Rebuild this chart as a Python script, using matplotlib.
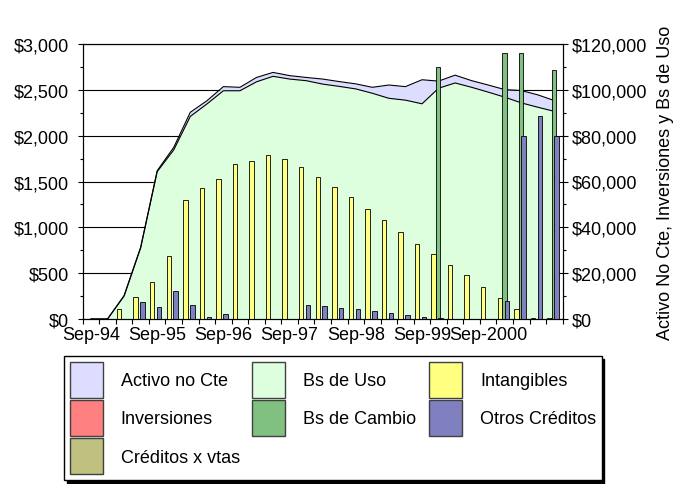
import numpy as np
import matplotlib
matplotlib.use('Agg')
import matplotlib.pyplot as plt
from matplotlib.patches import Patch
from matplotlib.ticker import StrMethodFormatter, MultipleLocator

plt.rcParams['font.family'] = ['Liberation Sans', 'DejaVu Sans']
plt.rcParams['font.size'] = 13

# quarterly categories, Sep-94 .. Sep-2001 (29 quarters), only Sep labelled
n_cat = 29
x_labels = ['Sep-94', 'Sep-95', 'Sep-96', 'Sep-97', 'Sep-98', 'Sep-99', 'Sep-2000']
label_pos = [0, 4, 8, 12, 16, 20, 24]

# right axis (areas)
activo_no_cte = [0, 0, 10200, 31300, 64700, 74900, 90200, 95200, 101400, 101100,
                 105400, 107600, 106200, 105400, 104700, 103600, 102600, 101100, 102100, 101400,
                 104400, 103800, 106400, 104000, 102100, 100100, 99700, 97800, 95300]
bs_de_uso = [0, 0, 10000, 31000, 64300, 73800, 88400, 93800, 99600, 99600,
             103500, 105900, 104700, 104000, 102500, 101500, 100400, 98500, 96300, 95500,
             93900, 100700, 103000, 101100, 99000, 96800, 94300, 92400, 90600]
inversiones = [0] * n_cat

# left axis (bars)
intangibles = [0, 0, 105, 236, 400, 691, 1302, 1425, 1531, 1695,
               1724, 1793, 1742, 1655, 1553, 1438, 1330, 1197, 1077, 951,
               821, 705, 592, 476, 348, 228, 111, 0, 0]
bs_cambio = [0, 0, 0, 0, 0, 0, 0, 0, 0, 0,
             0, 0, 0, 0, 0, 0, 0, 0, 0, 0,
             0, 2746, 0, 0, 0, 2898, 2900, 0, 2716]
otros_creditos = [0, 0, 0, 190, 127, 309, 153, 18, 51, 3,
                  3, 3, 3, 156, 142, 121, 109, 87, 65, 40,
                  24, 12, 3, 3, 3, 200, 2000, 2218, 1993]
creditos_vtas = [0] * 27 + [15, 15]

c_activo = '#DDDDFF'
c_uso = '#DDFFDD'
c_intang = '#FFFF80'
c_inver = '#FF8080'
c_cambio = '#80C080'
c_otros = '#8080C0'
c_vtas = '#C0C080'

x = np.arange(n_cat)

fig = plt.figure(figsize=(6.88, 4.85), dpi=100)
ax = fig.add_axes([82.7/688, 1-320/485, 480/688, 275/485])
ax2 = ax.twinx()

# areas (right scale), behind everything
ax.fill_between(x, activo_no_cte, color=c_activo, lw=0)
ax.plot(x, activo_no_cte, color='k', lw=0.8)
ax.fill_between(x, bs_de_uso, color=c_uso, lw=0)
ax.plot(x, bs_de_uso, color='k', lw=0.8)
ax.fill_between(x, inversiones, color=c_inver, lw=0)

# bars (left scale)
w = 0.27
ax2.bar(x - 0.3, intangibles, w, color=c_intang, edgecolor='k', lw=0.6)
ax2.bar(x - 0.3, creditos_vtas, w, color=c_vtas, edgecolor='k', lw=0.6)
ax2.bar(x - 0.03, bs_cambio, w, color=c_cambio, edgecolor='k', lw=0.6)
ax2.bar(x + 0.12, otros_creditos, w, color=c_otros, edgecolor='k', lw=0.6)

ax.set_xlim(-0.5, n_cat - 0.5)
ax.set_ylim(0, 120000)
ax2.set_ylim(0, 3000)

# swap sides: areas axis on the right, bars axis on the left
ax.yaxis.tick_right()
ax.yaxis.set_label_position('right')
ax2.yaxis.tick_left()

ax.yaxis.set_major_locator(MultipleLocator(20000))
ax.yaxis.set_minor_locator(MultipleLocator(10000))
ax2.yaxis.set_major_locator(MultipleLocator(500))
ax2.yaxis.set_minor_locator(MultipleLocator(250))
ax.yaxis.set_major_formatter(StrMethodFormatter('${x:,.0f}'))
ax2.yaxis.set_major_formatter(StrMethodFormatter('${x:,.0f}'))

ax.tick_params(axis='y', which='major', length=3.6, width=0.8, pad=3)
ax.tick_params(axis='y', which='minor', length=2.5, width=0.8)
ax2.tick_params(axis='y', which='major', length=3.6, width=0.8, pad=6)
ax2.tick_params(axis='y', which='minor', length=2.5, width=0.8)

ax.set_xticks(np.arange(n_cat + 1) - 0.5)
ax.set_xticklabels([])
ax.set_xticks(label_pos, x_labels, minor=True)
ax.tick_params(axis='x', which='major', length=3.6, width=0.8)
ax.tick_params(axis='x', which='minor', length=0, pad=5)

ax.yaxis.grid(True, color='k', lw=0.8)
ax.set_axisbelow(True)

for a in (ax, ax2):
    for s in a.spines.values():
        s.set_linewidth(0.8)

ax.set_ylabel('Activo No Cte, Inversiones y Bs de Uso', labelpad=7)

handles = [Patch(facecolor=c, edgecolor='#404040', lw=1) for c in
           [c_activo, c_inver, c_vtas, c_uso, c_cambio, c_intang, c_otros]]
labels = ['Activo no Cte', 'Inversiones', 'Créditos x vtas', 'Bs de Uso',
          'Bs de Cambio', 'Intangibles', 'Otros Créditos']
fig.legend(handles, labels, loc='upper left',
           bbox_to_anchor=(64.3/688, 1-481.7/485, 537.4/688, 124.4/485),
           mode='expand', ncol=3, borderaxespad=0, fancybox=False,
           edgecolor='k', framealpha=1, shadow={'color': 'k', 'alpha': 1},
           handlelength=1.83, handleheight=2.72, handletextpad=1.0,
           labelspacing=0.1, borderpad=0.3, fontsize=13)

fig.savefig('out.png', dpi=100)
